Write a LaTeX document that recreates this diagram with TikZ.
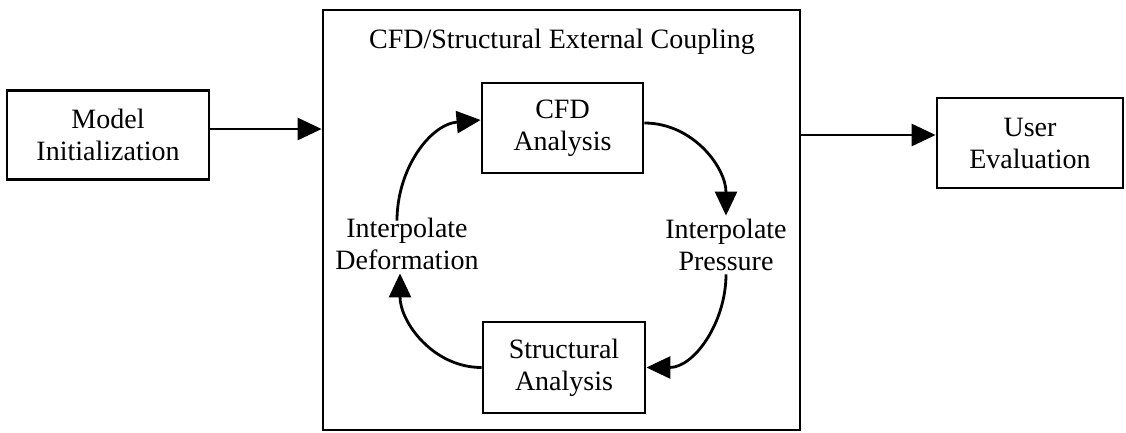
\documentclass[tikz,border=0pt]{standalone}
\usepackage{fontspec}
\setmainfont{Liberation Serif}
\usetikzlibrary{arrows.meta, positioning}

\begin{document}
\begin{tikzpicture}[x=1pt, y=-1pt,
            block/.style={rectangle, draw, line width=2.8pt, align=center, font=\fontsize{28}{32}\selectfont},
            arrow/.style={-{Triangle[length=24pt, width=22pt]}, line width=2.8pt},
            note/.style={align=center, font=\fontsize{28}{32}\selectfont}
        ]
            \useasboundingbox (0,0) rectangle (1126,433);

% Outer stages
            \node[block, minimum width=202pt, minimum height=89pt] (model) at (108,135) {Model\\Initialization};
            \node[block, minimum width=477pt, minimum height=420pt] (coupling) at (561.5,220) {};
            \node[block, minimum width=186pt, minimum height=90pt] (user) at (1030,143) {User\\Evaluation};
            \node[note] (title) at (562,42) {CFD/Structural External Coupling};

% Coupling loop
            \node[block, minimum width=161pt, minimum height=90pt] (cfd) at (562.5,128) {CFD\\Analysis};
            \node[block, minimum width=162pt, minimum height=91pt] (struct) at (564,367.5) {Structural\\Analysis};
            \node[note] (interdef) at (407,244) {Interpolate\\Deformation};
            \node[note] (interpres) at (726,245) {Interpolate\\Pressure};

% Flow between stages
            \coordinate (userin) at ([yshift=8pt]user.west);
            \draw[arrow] ([yshift=6pt]model.east) -- ([yshift=6pt]model.east -| coupling.west);
            \draw[arrow] (coupling.east |- userin) -- (userin);

            \draw[arrow] ([xshift=-10pt, yshift=-6pt]interdef.north) to[out=90, in=185] ([yshift=8pt]cfd.west);
            \draw[arrow] ([yshift=5pt]cfd.east) to[out=0, in=90] (interpres.north);
            \draw[arrow] (interpres.south) to[out=-90, in=0] (struct.east);
            \draw[arrow] (struct.west) to[out=180, in=-90] ([xshift=-7pt]interdef.south);

        \end{tikzpicture}
\end{document}
